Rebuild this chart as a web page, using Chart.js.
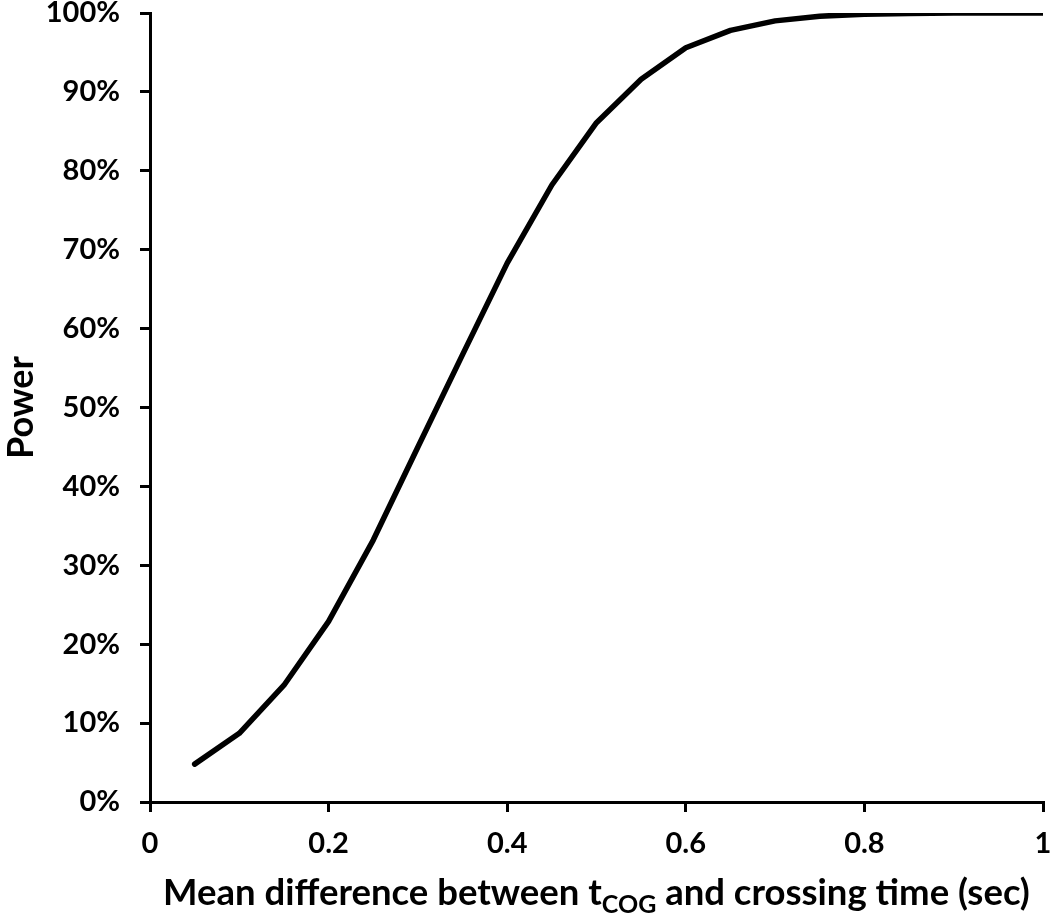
<!DOCTYPE html>
<html>
<head>
<meta charset="utf-8">
<script src="https://cdn.jsdelivr.net/npm/chart.js@4.4.1/dist/chart.umd.min.js"></script>
<style>
  html, body { margin: 0; padding: 0; background: #fff; }
  #wrap { position: relative; width: 1050px; height: 921px; }
  #xTitle {
    position: absolute; left: 150px; width: 893px; top: 869px;
    text-align: center; font-family: Lato, sans-serif; font-weight: bold;
    font-size: 36.5px; color: #000; white-space: nowrap;
  }
  #xTitle sub { font-size: 25px; vertical-align: -8px; line-height: 0; }
</style>
</head>
<body>
<div id="wrap">
  <canvas id="myChart" width="1050" height="921"></canvas>
  <div id="xTitle">Mean difference between t<sub>COG</sub> and crossing time (sec)</div>
</div>
<script>
var diffs = [0.05, 0.10, 0.15, 0.20, 0.25, 0.30, 0.35, 0.40, 0.45, 0.50,
             0.55, 0.60, 0.65, 0.70, 0.75, 0.80, 0.85, 0.90, 0.95, 1.00];
var power = [4.8, 8.7, 14.8, 22.9, 33.2, 45.0, 56.7, 68.3, 78.2, 86.1,
             91.6, 95.6, 97.8, 99.0, 99.6, 99.85, 99.95, 99.99, 100, 100];
var xTicks = [0, 0.2, 0.4, 0.6, 0.8, 1];
var yTicks = [0, 10, 20, 30, 40, 50, 60, 70, 80, 90, 100];

var points = [];
for (var i in diffs) {
    points.push({ x: diffs[i], y: power[i] });
}

var tickFont = { family: 'Lato', weight: 'bold', size: 29 };

var ctx = document.getElementById('myChart').getContext('2d');
var chart = new Chart(ctx, {
    type: 'line',
    data: {
        datasets: [{
            label: 'Power',
            data: points,
            borderColor: '#000',
            borderWidth: 5.5,
            borderCapStyle: 'round',
            borderJoinStyle: 'round',
            pointRadius: 0,
            tension: 0,
            fill: false
        }]
    },
    options: {
        responsive: false,
        animation: false,
        layout: { padding: { top: 13, right: 7, bottom: 0, left: 0 } },
        plugins: { legend: { display: false }, tooltip: { enabled: false } },
        scales: {
            x: {
                type: 'linear',
                min: 0, max: 1,
                afterBuildTicks: function(scale) {
                    scale.ticks = xTicks.map(function(v) { return { value: v }; });
                },
                afterFit: function(scale) {
                    scale.height = 119;
                    scale.paddingLeft = 0;
                    scale.paddingRight = 0;
                },
                ticks: {
                    color: '#000', font: tickFont, padding: 14,
                    maxRotation: 0,
                    callback: function(v) { return v === 0 || v === 1 ? String(v) : v.toFixed(1); }
                },
                grid: { drawOnChartArea: false, drawTicks: true, tickLength: 10, tickColor: '#000', lineWidth: 3 },
                border: { color: '#000', width: 3 }
            },
            y: {
                min: 0, max: 100,
                afterBuildTicks: function(scale) {
                    scale.ticks = yTicks.map(function(v) { return { value: v }; });
                },
                afterFit: function(scale) {
                    scale.width = 150;
                    scale.paddingTop = 0;
                    scale.paddingBottom = 0;
                },
                ticks: {
                    color: '#000', font: tickFont, padding: 20,
                    callback: function(v) { return v + '%'; }
                },
                title: {
                    display: true, text: 'Power', color: '#000',
                    font: { family: 'Lato', weight: 'bold', size: 36 },
                    padding: { top: 0, bottom: 0 }
                },
                grid: { drawOnChartArea: false, drawTicks: true, tickLength: 10, tickColor: '#000', lineWidth: 3 },
                border: { color: '#000', width: 3 }
            }
        }
    }
});
</script>
</body>
</html>
